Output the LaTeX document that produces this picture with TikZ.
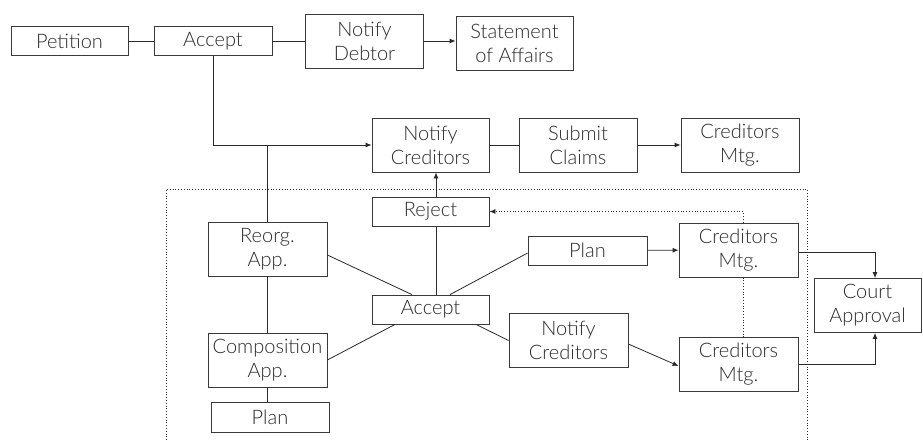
\documentclass[tikz,border=0pt]{standalone}
\usepackage{fontspec}
\setmainfont{Lato Light}
\usetikzlibrary{arrows.meta,calc}
\definecolor{ink}{HTML}{2A2A2A}
\definecolor{frame}{HTML}{3A3A3A}
\begin{document}
\begin{tikzpicture}[x=1pt,y=-1pt,
  every node/.style={font=\fontsize{20}{24}\selectfont, text=ink},
  box/.style={draw=frame, line width=0.8pt, inner sep=0pt, align=center, minimum width=118pt},
  one/.style={box, minimum height=29pt},
  two/.style={box, minimum height=54pt},
  link/.style={draw=ink, line width=0.8pt},
  arr/.style={link, -{Latex[length=6pt,width=5pt]}},
  dots/.style={draw=ink, line width=0.8pt, dotted}
]
\useasboundingbox (0,0) rectangle (923,440);

% petition stage
\node[one, minimum width=117pt] (pet) at (69.5,41) {Petition};
\node[one] (acc1) at (213,41) {Accept};
\node[two] (ndeb) at (364.5,41) {Notify\\Debtor};
\node[two, minimum width=117pt] (stat) at (514.5,43) {Statement\\of Affairs};

% creditors stage
\node[two, minimum width=117pt] (ncr) at (430.5,145) {Notify\\Creditors};
\node[two] (sub) at (578,145) {Submit\\Claims};
\node[two] (cmt) at (740,145) {Creditors\\Mtg.};

% arrangement stage
\node[one, minimum width=117pt] (rej) at (430.5,211.5) {Reject};
\node[two, minimum width=119pt] (reo) at (267.5,249) {Reorg.\\App.};
\node[two, minimum width=119pt] (com) at (267.5,360) {Composition\\App.};
\node[one, minimum height=30pt] (plb) at (270,417) {Plan};
\node[one, minimum width=117pt] (acc2) at (430.5,309.5) {Accept};
\node[one, minimum width=119pt] (plm) at (587.5,250.5) {Plan};
\node[two, minimum width=119pt] (cmm) at (738.5,250) {Creditors\\Mtg.};
\node[two, minimum width=119pt] (ncr2) at (568.5,340.5) {Notify\\Creditors};
\node[two, minimum width=119pt] (cml) at (738.5,364.5) {Creditors\\Mtg.};
\node[two, minimum width=107pt] (crt) at (867.5,305.5) {Court\\Approval};

% top row
\draw[link] (pet) -- (acc1);
\draw[link] (acc1) -- (ndeb);
\draw[arr] (ndeb.east) -- (ndeb.east -| stat.west);

% to the creditors
\draw[arr] (acc1.south) |- (ncr.west);
\draw[link] (reo.north) -- (reo.north |- ncr.west);
\draw[link] (ncr) -- (sub);
\draw[arr] (sub) -- (cmt);
\draw[arr] ([xshift=5.5pt]rej.north) -- ([xshift=5.5pt]ncr.south);

% around the second accept
\draw[link] ([xshift=5.5pt]acc2.north) -- ([xshift=5.5pt]rej.south);
\draw[link] ([yshift=-6pt]reo.east) -- ([xshift=-18.5pt]acc2.north);
\draw[link] ([xshift=19.5pt]acc2.north) -- ([yshift=-2.5pt]plm.west);
\draw[link] ([xshift=-35.5pt]acc2.south) -- (com.east);
\draw[link] ([xshift=45.5pt]acc2.south) -- (ncr2.west);
\draw[link] (reo.south) -- (com.north);
\draw[link] (com.south) -- (com.south |- plb.north);

% meetings and approval
\draw[arr] (plm) -- (cmm);
\draw[arr] ([yshift=-3.5pt]ncr2.east) -- ([yshift=-1.5pt]cml.west);
\draw[arr] ([yshift=-2pt]cmm.east) -| ([xshift=7.5pt]crt.north);
\draw[arr] ([yshift=0.5pt]cml.east) -| ([xshift=7.5pt]crt.south);

% dotted feedback to reject
\draw[dots] ([xshift=4.5pt]cml.north) -- ([xshift=4.5pt]cmm.south);
\draw[dots, -{Latex[length=6pt,width=5pt]}] ([xshift=4.5pt]cmm.north) |- (rej.east);

% dotted frame of the arrangement stage
\draw[dots] (166,440) -- (166,189) -- (807,189) -- (807,440);
\end{tikzpicture}
\end{document}
